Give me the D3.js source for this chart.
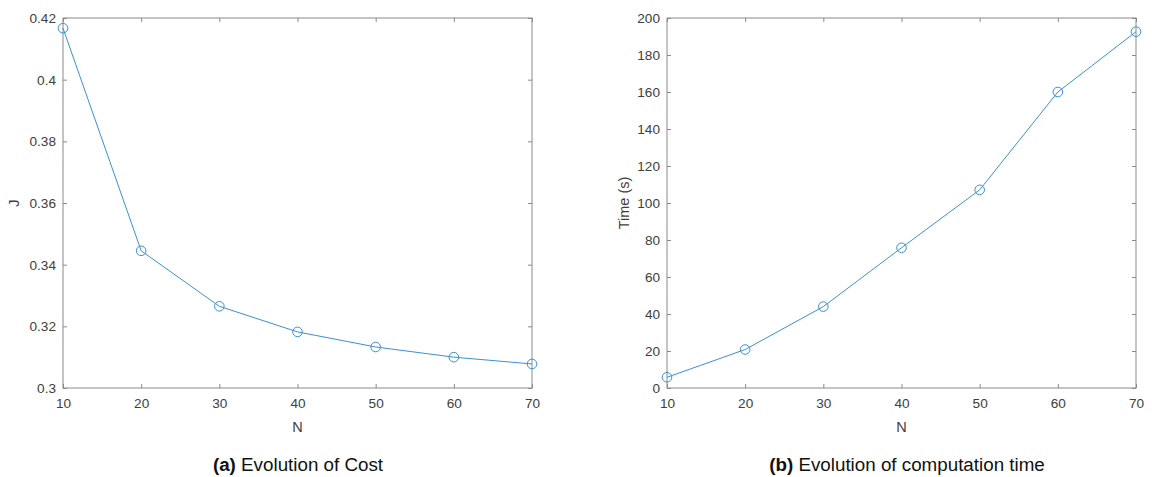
<!DOCTYPE html>
<html>
<head>
<meta charset="utf-8">
<script src="https://cdn.jsdelivr.net/npm/d3@7"></script>
<style>
  body { margin: 0; background: #fff; }
  svg { display: block; font-family: "Liberation Sans", Arial, sans-serif; }
</style>
</head>
<body>
<svg id="chart" width="1152" height="477"></svg>
<script>
// Horizon lengths N
const horizons = [10, 20, 30, 40, 50, 60, 70];
// Optimal cost J for each horizon
const costValues = [0.4167, 0.3445, 0.3265, 0.3182, 0.3133, 0.3100, 0.3078];
// Computation time (s) for each horizon
const timeValues = [5.8, 20.8, 44.0, 75.8, 107.1, 160.0, 192.6];

const xTicks = [10, 20, 30, 40, 50, 60, 70];
const costTicks = [0.3, 0.32, 0.34, 0.36, 0.38, 0.4, 0.42];
const timeTicks = [0, 20, 40, 60, 80, 100, 120, 140, 160, 180, 200];

const lineColor = "#3b90d6";
const axisColor = "#8a8a8a";
const textColor = "#404040";

const svg = d3.select("#chart");

function drawPanel(opts) {
  const { left, right, top, bottom, yDomain, yTicks, values, yLabel, yFormat, captionBold, captionText, captionX } = opts;
  const x = d3.scaleLinear().domain([10, 70]).range([left, right]);
  const y = d3.scaleLinear().domain(yDomain).range([bottom, top]);
  const g = svg.append("g");

  // box
  g.append("rect")
    .attr("x", left).attr("y", top)
    .attr("width", right - left).attr("height", bottom - top)
    .attr("fill", "none").attr("stroke", axisColor).attr("stroke-width", 1);

  // axes with inward ticks
  const styleAxis = sel => {
    sel.select(".domain").remove();
    sel.selectAll(".tick line").attr("stroke", axisColor);
    sel.selectAll(".tick text").attr("fill", textColor).style("font-size", "13.6px")
      .style("font-family", "'Liberation Sans', Arial, sans-serif");
  };
  g.append("g").attr("transform", `translate(0,${bottom})`)
    .call(d3.axisBottom(x).tickValues(xTicks).tickSizeInner(-4).tickSizeOuter(0).tickPadding(10).tickFormat(d3.format("d")))
    .call(styleAxis);
  g.append("g").attr("transform", `translate(0,${top})`)
    .call(d3.axisTop(x).tickValues(xTicks).tickSizeInner(-4).tickSizeOuter(0).tickFormat(""))
    .call(styleAxis);
  g.append("g").attr("transform", `translate(${left},0)`)
    .call(d3.axisLeft(y).tickValues(yTicks).tickSizeInner(-4).tickSizeOuter(0).tickPadding(7).tickFormat(yFormat))
    .call(styleAxis);
  g.append("g").attr("transform", `translate(${right},0)`)
    .call(d3.axisRight(y).tickValues(yTicks).tickSizeInner(-4).tickSizeOuter(0).tickFormat(""))
    .call(styleAxis);

  // series line
  const pts = horizons.map((n, i) => [n, values[i]]);
  g.append("path")
    .datum(pts)
    .attr("fill", "none").attr("stroke", lineColor).attr("stroke-width", 1)
    .attr("d", d3.line().x(d => x(d[0])).y(d => y(d[1])));
  g.selectAll("circle.mk").data(pts).enter().append("circle")
    .attr("class", "mk")
    .attr("cx", d => x(d[0])).attr("cy", d => y(d[1])).attr("r", 4.8)
    .attr("fill", "none").attr("stroke", lineColor).attr("stroke-width", 1);

  // axis labels
  g.append("text").attr("x", (left + right) / 2).attr("y", bottom + 44)
    .attr("text-anchor", "middle").attr("fill", textColor).style("font-size", "14.5px").text("N");
  g.append("text")
    .attr("transform", `translate(${opts.yLabelX},${(top + bottom) / 2}) rotate(-90)`)
    .attr("text-anchor", "middle").attr("fill", textColor).style("font-size", "14.5px").text(yLabel);

  // caption
  const cap = g.append("text").attr("x", captionX).attr("y", 471)
    .attr("text-anchor", "middle").attr("fill", "#111").style("font-size", "18.8px");
  cap.append("tspan").style("font-weight", "bold").text(captionBold);
  cap.append("tspan").text(" " + captionText);
}

drawPanel({
  left: 63, right: 532, top: 18, bottom: 388,
  yDomain: [0.3, 0.42], yTicks: costTicks, values: costValues,
  yLabel: "J", yLabelX: 19, yFormat: d => d3.format("")(+d.toFixed(2)),
  captionBold: "(a)", captionText: "Evolution of Cost", captionX: 298
});

drawPanel({
  left: 667, right: 1136, top: 18, bottom: 388,
  yDomain: [0, 200], yTicks: timeTicks, values: timeValues,
  yLabel: "Time (s)", yLabelX: 629, yFormat: d3.format("d"),
  captionBold: "(b)", captionText: "Evolution of computation time", captionX: 907
});
</script>
</body>
</html>
